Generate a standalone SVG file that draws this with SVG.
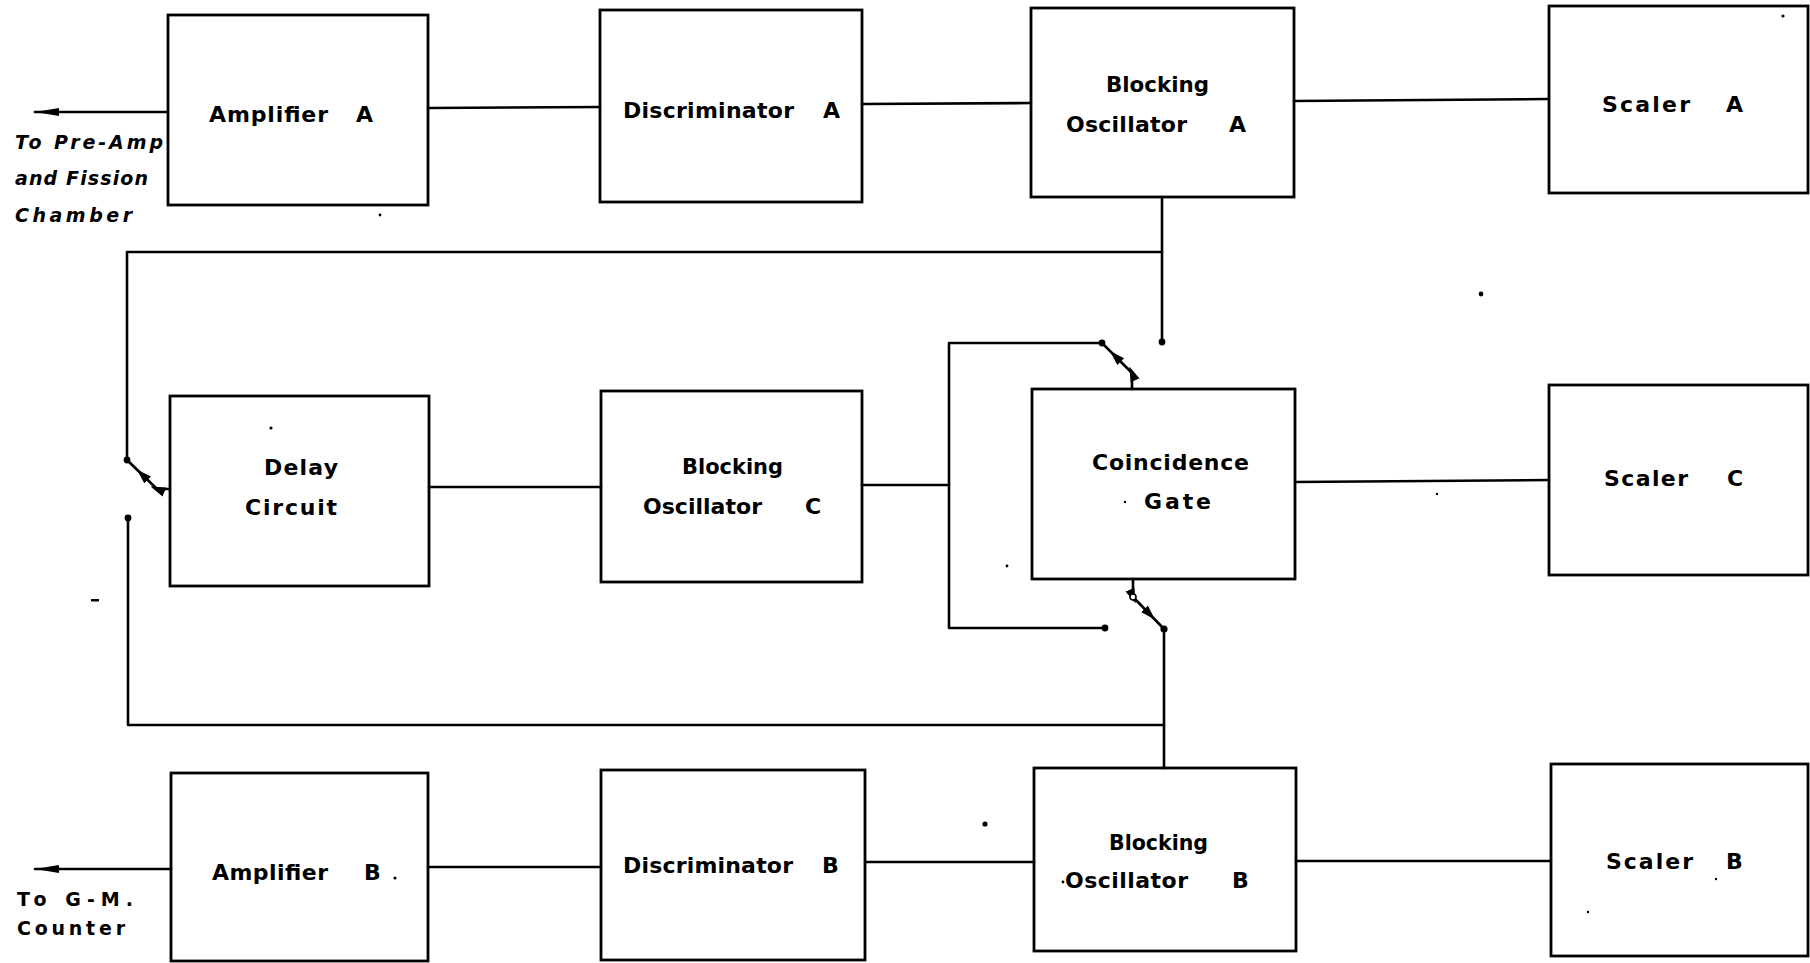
<svg xmlns="http://www.w3.org/2000/svg" width="1810" height="963" viewBox="0 0 1810 963">
<style>
  .box { fill: none; stroke: #000; stroke-width: 2.8; }
  .ln { fill: none; stroke: #000; stroke-width: 2.6; stroke-linecap: round; stroke-linejoin: round; }
  .lbl { font-family: "DejaVu Sans", "Liberation Sans", sans-serif; font-weight: bold; font-size: 22px; fill: #000; }
  .side { font-family: "DejaVu Sans", "Liberation Sans", sans-serif; font-weight: bold; font-size: 19px; fill: #000; }
  .it { font-style: italic; }
  .dot { fill: #000; }
  .odot { fill: #fff; stroke: #000; stroke-width: 1.6; }
  .speck { fill: #000; }
</style>
<defs>
  <marker id="endArrow" markerUnits="userSpaceOnUse" markerWidth="26" markerHeight="12" refX="24" refY="6" orient="auto">
    <path d="M0,2 L24,6 L0,10 Z" fill="#000"/>
  </marker>
  <marker id="midArrow" markerUnits="userSpaceOnUse" markerWidth="16" markerHeight="12" refX="8" refY="6" orient="auto">
    <path d="M0,1.2 L15,6 L0,10.8 Z" fill="#000"/>
  </marker>
</defs>
<rect width="1810" height="963" fill="#fff"/>

<g id="connectors">
  <path class="ln" d="M168,112 L35,112" marker-end="url(#endArrow)"/>
  <path class="ln" d="M428,108 L600,107"/>
  <path class="ln" d="M862,104 L1031,103"/>
  <path class="ln" d="M1294,101 L1549,99"/>
  <path class="ln" d="M1162,197 V342"/>
  <circle class="dot" cx="1162" cy="342" r="3.4"/>
  <path class="ln" d="M1162,252 H127 V460"/>
  <circle class="dot" cx="127" cy="460" r="3.4"/>
  <path class="ln" d="M170,489 H157 L142,474.5 L127,460" marker-mid="url(#midArrow)"/>
  <circle class="dot" cx="128" cy="518" r="3.4"/>
  <path class="ln" d="M128,518 V725 H1164"/>
  <path class="ln" d="M1164,768 V629"/>
  <circle class="dot" cx="1164" cy="629" r="3.6"/>
  <path class="ln" d="M1133,579 V597 L1150,614.5 L1164,629" marker-mid="url(#midArrow)"/>
  <circle class="odot" cx="1133" cy="597" r="3"/>
  <path class="ln" d="M1132,389 V373 L1115,356 L1102,343" marker-mid="url(#midArrow)"/>
  <circle class="dot" cx="1102" cy="343" r="3.4"/>
  <path class="ln" d="M1102,343 H949 V628 H1105"/>
  <circle class="dot" cx="1105" cy="628" r="3.4"/>
  <path class="ln" d="M862,485 H949"/>
  <path class="ln" d="M429,487 H601"/>
  <path class="ln" d="M1295,482 L1549,480"/>
  <path class="ln" d="M171,869 L35,869" marker-end="url(#endArrow)"/>
  <path class="ln" d="M428,867 H601"/>
  <path class="ln" d="M865,862 H1034"/>
  <path class="ln" d="M1296,861 H1551"/>
</g>

<g id="ampA">
  <rect class="box" x="168" y="15" width="260" height="190"/>
  <text class="lbl"><tspan x="209" y="122" textLength="119" lengthAdjust="spacing">Amplifier</tspan><tspan x="356" y="122">A</tspan></text>
</g>
<g id="labelA">
  <text class="side it" x="15" y="149" textLength="148" lengthAdjust="spacing">To Pre-Amp</text>
  <text class="side it" x="15" y="185" textLength="133" lengthAdjust="spacing">and Fission</text>
  <text class="side it" x="15" y="222" textLength="117" lengthAdjust="spacing">Chamber</text>
</g>
<g id="discA">
  <rect class="box" x="600" y="10" width="262" height="192"/>
  <text class="lbl"><tspan x="623" y="118" textLength="171" lengthAdjust="spacing">Discriminator</tspan><tspan x="823" y="118">A</tspan></text>
</g>
<g id="boA">
  <rect class="box" x="1031" y="8" width="263" height="189"/>
  <text class="lbl" x="1106" y="92" textLength="103" lengthAdjust="spacingAndGlyphs">Blocking</text>
  <text class="lbl"><tspan x="1066" y="132" textLength="121" lengthAdjust="spacing">Oscillator</tspan><tspan x="1229" y="132">A</tspan></text>
</g>
<g id="scalerA">
  <rect class="box" x="1549" y="6" width="259" height="187"/>
  <text class="lbl"><tspan x="1602" y="112" textLength="88" lengthAdjust="spacing">Scaler</tspan><tspan x="1726" y="112">A</tspan></text>
</g>
<g id="delay">
  <rect class="box" x="170" y="396" width="259" height="190"/>
  <text class="lbl" x="264" y="475" textLength="74" lengthAdjust="spacing">Delay</text>
  <text class="lbl" x="245" y="515" textLength="92" lengthAdjust="spacing">Circuit</text>
</g>
<g id="boC">
  <rect class="box" x="601" y="391" width="261" height="191"/>
  <text class="lbl" x="682" y="474" textLength="101" lengthAdjust="spacingAndGlyphs">Blocking</text>
  <text class="lbl"><tspan x="643" y="514" textLength="119" lengthAdjust="spacing">Oscillator</tspan><tspan x="805" y="514">C</tspan></text>
</g>
<g id="coinc">
  <rect class="box" x="1032" y="389" width="263" height="190"/>
  <text class="lbl" x="1092" y="470" textLength="157" lengthAdjust="spacing">Coincidence</text>
  <text class="lbl" x="1144" y="509" textLength="67" lengthAdjust="spacing">Gate</text>
</g>
<g id="scalerC">
  <rect class="box" x="1549" y="385" width="259" height="190"/>
  <text class="lbl"><tspan x="1604" y="486" textLength="84" lengthAdjust="spacing">Scaler</tspan><tspan x="1727" y="486">C</tspan></text>
</g>
<g id="ampB">
  <rect class="box" x="171" y="773" width="257" height="188"/>
  <text class="lbl"><tspan x="212" y="880" textLength="116" lengthAdjust="spacing">Amplifier</tspan><tspan x="364" y="880">B</tspan></text>
</g>
<g id="labelB">
  <text class="side" x="17" y="906" textLength="116" lengthAdjust="spacing">To G-M.</text>
  <text class="side" x="17" y="935" textLength="108" lengthAdjust="spacing">Counter</text>
</g>
<g id="discB">
  <rect class="box" x="601" y="770" width="264" height="190"/>
  <text class="lbl"><tspan x="623" y="873" textLength="170" lengthAdjust="spacing">Discriminator</tspan><tspan x="822" y="873">B</tspan></text>
</g>
<g id="boB">
  <rect class="box" x="1034" y="768" width="262" height="183"/>
  <text class="lbl" x="1109" y="850" textLength="99" lengthAdjust="spacingAndGlyphs">Blocking</text>
  <text class="lbl"><tspan x="1065" y="888" textLength="123" lengthAdjust="spacing">Oscillator</tspan><tspan x="1232" y="888">B</tspan></text>
</g>
<g id="scalerB">
  <rect class="box" x="1551" y="764" width="257" height="192"/>
  <text class="lbl"><tspan x="1606" y="869" textLength="87" lengthAdjust="spacing">Scaler</tspan><tspan x="1726" y="869">B</tspan></text>
</g>

<g id="specks">
  <circle class="speck" cx="1481" cy="294" r="2.4"/>
  <circle class="speck" cx="985" cy="824" r="2.6"/>
  <circle class="speck" cx="271" cy="428" r="1.6"/>
  <circle class="speck" cx="395" cy="878" r="1.6"/>
  <rect class="speck" x="91" y="599" width="8" height="2.5"/>
  <circle class="speck" cx="1007" cy="566" r="1.4"/>
  <circle class="speck" cx="1437" cy="494" r="1.2"/>
  <circle class="speck" cx="1125" cy="502" r="1.2"/>
  <circle class="speck" cx="1063" cy="882" r="1.4"/>
  <circle class="speck" cx="380" cy="215" r="1.4"/>
  <circle class="speck" cx="1783" cy="16" r="1.6"/>
  <circle class="speck" cx="1588" cy="912" r="1.2"/>
  <circle class="speck" cx="1716" cy="879" r="1.2"/>
</g>
</svg>
